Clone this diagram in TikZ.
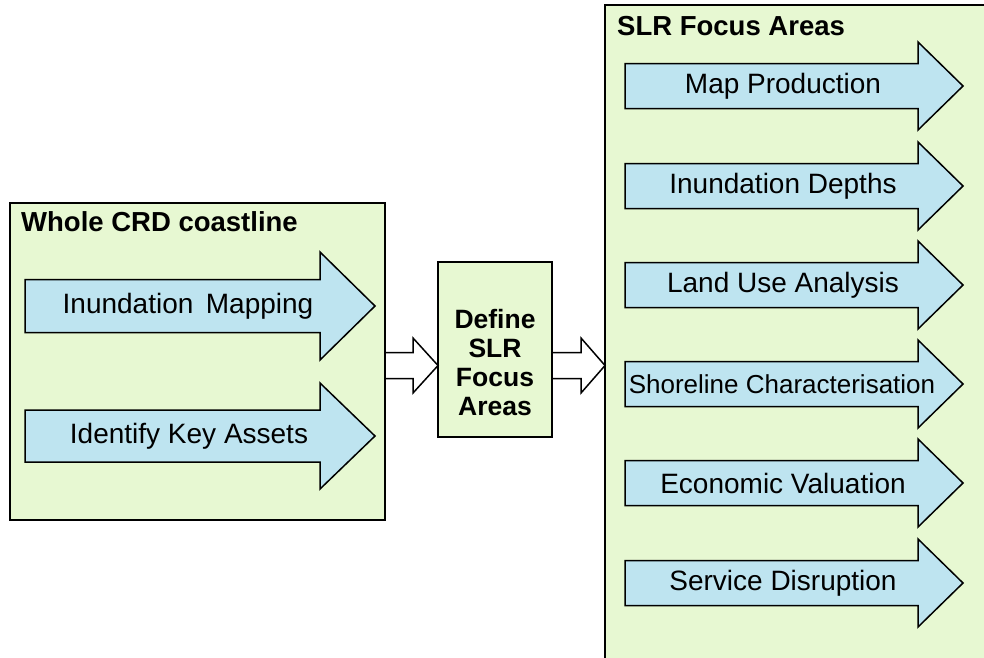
\documentclass[tikz,border=0pt]{standalone}
\usepackage{fontspec}
\setmainfont{Liberation Sans}
\usetikzlibrary{positioning}

\definecolor{boxgreen}{RGB}{231,248,210}
\definecolor{arrblue}{RGB}{190,228,240}

% block arrow: #1 style, #2 left x, #3 head base x, #4 tip x, #5 centre y, #6 shaft half, #7 head half
\newcommand{\blockarrow}[7]{%
  \draw[#1] (#2,#5-#6) -- (#3,#5-#6) -- (#3,#5-#7) -- (#4,#5)
    -- (#3,#5+#7) -- (#3,#5+#6) -- (#2,#5+#6) -- cycle;}

\begin{document}
\begin{tikzpicture}[
          x=1pt, y=-1pt,
          area/.style={draw=black, fill=boxgreen, line width=1.6pt},
          task/.style={draw=black, fill=arrblue, line width=1.5pt, line join=miter},
          pass/.style={draw=black, fill=white, line width=1.5pt, line join=miter},
          title/.style={font=\bfseries\fontsize{27.5}{30}\selectfont, inner sep=0pt, anchor=base west},
          lbl/.style={font=\fontsize{28}{30}\selectfont, inner sep=0pt},
          small/.style={font=\fontsize{26}{30}\selectfont, inner sep=0pt}
      ]
      \clip (0,0) rectangle (984,657);
      \fill[white] (0,0) rectangle (984,657);
      % boxes
      \draw[area] (10,203) rectangle (385,520);
      \draw[area] (438,262) rectangle (552,437);
      \draw[area] (605,5) rectangle (1000,680);
      \node[title] (whole) at (21,231) {Whole CRD coastline};
      \node[title] (focus) at (617,35) {SLR Focus Areas};
      \node[font=\bfseries\fontsize{26.5}{29}\selectfont, align=center, inner sep=0pt]
          (define) at (495,363) {Define\\SLR\\Focus\\Areas};
      % hollow arrows between boxes
      \blockarrow{pass}{385}{413}{438}{365.5}{13}{27.5}
      \blockarrow{pass}{552}{581}{605}{365.5}{13}{27.5}
      % whole coastline tasks
      \blockarrow{task}{25}{320}{375}{306}{26.5}{54}
      \blockarrow{task}{25}{320}{375}{436}{26}{53}
      \node[lbl] (inund) at (188,306) {Inundation\, Mapping};
      \node[lbl] (assets) at (189,436) {Identify Key Assets};
      % focus area tasks
      \foreach \yc in {86,186,285,384,483,583}
        \blockarrow{task}{625}{918}{963}{\yc}{22.5}{44};
      \node[lbl] (mapprod) at (783,86) {Map Production};
      \node[lbl] (depths) at (783,186) {Inundation Depths};
      \node[lbl] (landuse) at (783,285) {Land Use Analysis};
      \node[small] (shore) at (782,384) {Shoreline Characterisation};
      \node[lbl] (econ) at (783,483) {Economic Valuation};
      \node[lbl] (service) at (783,583) {Service Disruption};
      \end{tikzpicture}
\end{document}
